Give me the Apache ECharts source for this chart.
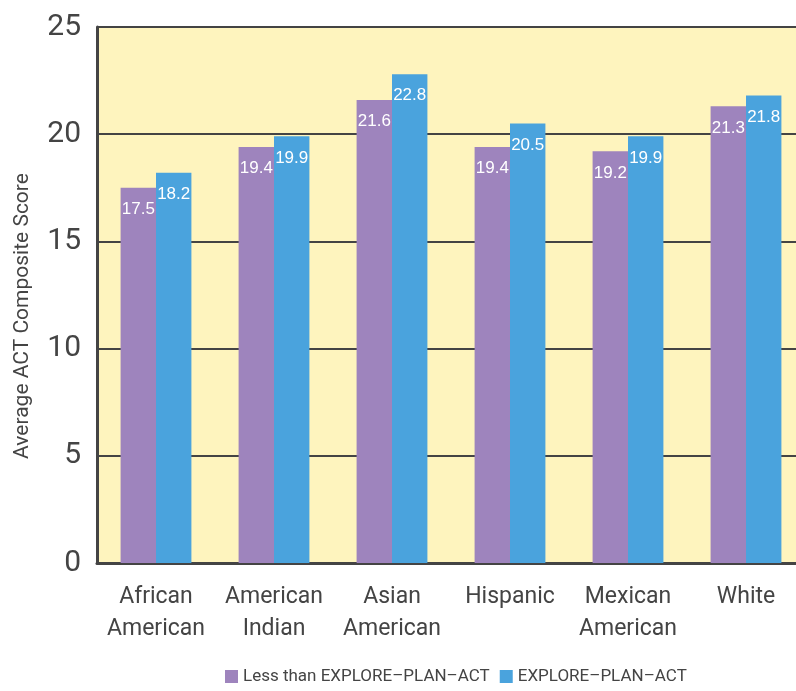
<!DOCTYPE html>
<html>
<head>
<meta charset="utf-8">
<title>Average ACT Composite Score</title>
<script src="https://cdn.jsdelivr.net/npm/echarts@6/dist/echarts.min.js"></script>
<style>
  html, body { margin: 0; padding: 0; background: #fff; }
  #box { width: 796px; height: 691px; }
</style>
</head>
<body>
<div id="box"></div>
<script>
var groups = ['African\nAmerican', 'American\nIndian', 'Asian\nAmerican', 'Hispanic', 'Mexican\nAmerican', 'White'];
var lessThan = [17.5, 19.4, 21.6, 19.4, 19.2, 21.3];
var explore = [18.2, 19.9, 22.8, 20.5, 19.9, 21.8];
var seriesNames = ['Less than EXPLORE\u2013PLAN\u2013ACT', 'EXPLORE\u2013PLAN\u2013ACT'];

var font = "'Liberation Sans Narrow', 'Roboto', 'Liberation Sans', sans-serif";
var chart = echarts.init(document.getElementById('box'));

var label = {
  show: true,
  position: 'insideTop',
  distance: 13,
  color: '#fff',
  fontSize: 17,
  fontFamily: "'Liberation Sans', Arial, sans-serif",
  formatter: function (p) { return p.value.toFixed(1); }
};

chart.setOption({
  animation: false,
  // plot runs past the right edge of the picture, like the original
  grid: {
    left: 97, width: 708, top: 27, bottom: 128,
    outerBoundsMode: 'none', containLabel: false,
    backgroundColor: '#fef4be', show: true, borderWidth: 0
  },
  legend: {
    bottom: 1,
    left: 220,
    itemWidth: 13,
    itemHeight: 13,
    itemGap: 10,
    icon: 'rect',
    textStyle: { fontFamily: font, fontSize: 17, color: '#444' },
    data: seriesNames
  },
  xAxis: {
    type: 'category',
    data: groups,
    axisLine: { lineStyle: { color: '#444', width: 3 } },
    axisTick: { show: false },
    axisLabel: { interval: 0, fontFamily: font, fontSize: 23, color: '#444', lineHeight: 32, margin: 18 }
  },
  yAxis: {
    type: 'value',
    min: 0,
    max: 25,
    interval: 5,
    name: 'Average ACT Composite Score',
    nameLocation: 'middle',
    nameGap: 64,
    nameTextStyle: { fontFamily: font, fontSize: 21, color: '#444', padding: [0, 42, 0, 0] },
    axisLine: { show: true, lineStyle: { color: '#444', width: 3 } },
    axisTick: { show: false },
    axisLabel: { fontFamily: font, fontSize: 30, color: '#444', margin: 16 },
    splitLine: { lineStyle: { color: '#444', width: 2 } }
  },
  series: [
    {
      name: seriesNames[0], type: 'bar', data: lessThan,
      itemStyle: { color: '#9e84bd' },
      barGap: '0%', barCategoryGap: '40%',
      label: label
    },
    {
      name: seriesNames[1], type: 'bar', data: explore,
      itemStyle: { color: '#4aa3dd' },
      label: label
    }
  ]
});
</script>
</body>
</html>
